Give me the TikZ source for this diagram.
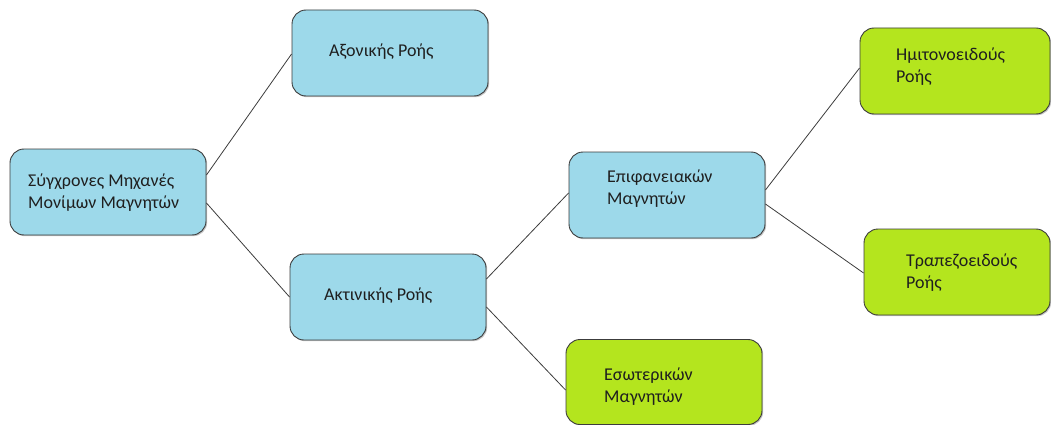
\documentclass[tikz,border=0pt]{standalone}
\usepackage{fontspec}
\setmainfont{Carlito}
\usetikzlibrary{shadows}
\definecolor{boxblue}{HTML}{9DD9EA}
\definecolor{boxgreen}{HTML}{B4E51E}
\definecolor{edgegray}{HTML}{3C3C3C}
\begin{document}
\begin{tikzpicture}[x=1pt,y=-1pt,
  box/.style={draw=edgegray, line width=0.9pt, rounded corners=14pt,
    minimum width=196pt, minimum height=86pt, inner sep=0pt,
    drop shadow={shadow xshift=1.2pt, shadow yshift=-1.2pt, opacity=0.45}},
  bluebox/.style={box, fill=boxblue},
  greenbox/.style={box, fill=boxgreen},
  lbl/.style={anchor=base west, inner sep=0pt, align=left, font=\fontsize{18}{22}\selectfont, text=black!88},
  link/.style={draw=edgegray, line width=0.8pt}]
\useasboundingbox (0,0) rectangle (1051,425);

% boxes
\node[bluebox] (root) at (108,192) {};
\node[bluebox] (ax) at (390,53) {};
\node[bluebox] (ak) at (388,297) {};
\node[bluebox] (ep) at (667,195) {};
\node[greenbox, minimum width=190pt] (hm) at (955,71) {};
\node[greenbox, minimum width=186pt] (tr) at (957,272) {};
\node[greenbox, minimum height=85pt] (es) at (664,382) {};

% labels (anchored at the baseline of the last line)
\node[lbl] (troot) at (28,208) {Σύγχρονες Μηχανές\\Μονίμων Μαγνητών};
\node[lbl] (tax) at (329,57) {Αξονικής Ροής};
\node[lbl] (tak) at (324,300) {Ακτινικής Ροής};
\node[lbl] (tep) at (607,204) {Επιφανειακών\\Μαγνητών};
\node[lbl] (thm) at (896,83) {Ημιτονοειδούς\\Ροής};
\node[lbl] (ttr) at (906,288) {Τραπεζοειδούς\\Ροής};
\node[lbl] (tes) at (604,402) {Εσωτερικών\\Μαγνητών};

% connectors
\draw[link] ([yshift=17pt]root.east) -- ([yshift=-1pt]ax.west);
\draw[link] ([yshift=-11pt]root.east) -- (ak.west);
\draw[link] ([yshift=18pt]ak.east) -- ([yshift=2pt]ep.west);
\draw[link] ([yshift=-10pt]ak.east) -- ([yshift=-8pt]es.west);
\draw[link] ([yshift=5pt]ep.east) -- ([yshift=3pt]hm.west);
\draw[link] ([yshift=-9pt]ep.east) -- ([yshift=-1pt]tr.west);
\end{tikzpicture}
\end{document}
